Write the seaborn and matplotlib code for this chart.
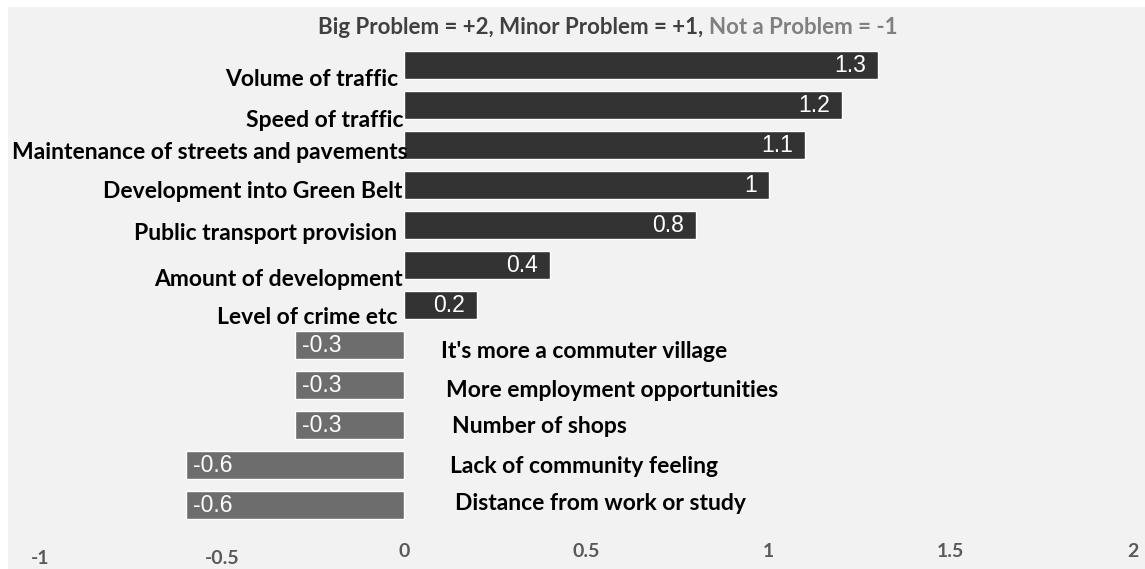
import matplotlib.pyplot as plt
import matplotlib.transforms as mtransforms
from matplotlib.patches import Rectangle
import seaborn as sns
import pandas as pd

# data
issues = ['Volume of traffic', 'Speed of traffic', 'Maintenance of streets and pavements',
          'Development into Green Belt', 'Public transport provision', 'Amount of development',
          'Level of crime etc', "It's more a commuter village", 'More employment opportunities',
          'Number of shops', 'Lack of community feeling', 'Distance from work or study']
scores = [1.3, 1.2, 1.1, 1.0, 0.8, 0.4, 0.2, -0.3, -0.3, -0.3, -0.6, -0.6]
xticks = [-1, -0.5, 0, 0.5, 1, 1.5, 2]
xtick_labels = ['-1', '-0.5', '0', '0.5', '1', '1.5', '2']

# small nudges of the category labels (excel placed them a bit unevenly)
label_dx = [-6, -1, 3, -2, -7, -2, -7, 37, 42, 48, 46, 51]
label_dy = [14, 15, 7, 6, 8, 14, 12, 6, 5, 1, 1, -2]

df = pd.DataFrame({'issue': issues, 'score': scores})
colors = ['#333333' if v > 0 else '#6d6d6d' for v in scores]

sns.set_style('white')
fig = plt.figure(figsize=(11.45, 5.69), dpi=100)
fig.patch.set_facecolor('white')
fig.patches.append(Rectangle((8 / 1145, 0), 1, (569 - 7) / 569, transform=fig.transFigure,
                             facecolor='#f2f2f2', edgecolor='none', zorder=-10))

ax = fig.add_axes([40 / 1145, 44 / 569, 1093 / 1145, 480 / 569])
ax.set_facecolor('none')
sns.barplot(data=df, x='score', y='issue', hue='issue', palette=colors, order=issues,
            hue_order=issues, width=0.68, legend=False, ax=ax, saturation=1)

ax.set_xlim(-1, 2)
ax.set_ylim(11.5, -0.5)
ax.set_xticks(xticks)
ax.set_xticklabels(xtick_labels, fontfamily='Lato', fontweight='bold', fontsize=14, color='#595959')
ax.tick_params(axis='x', length=0, pad=13)
ax.set_yticks([])
ax.set_xlabel('')
ax.set_ylabel('')
for s in ax.spines.values():
    s.set_visible(False)

# excel drops the first two tick labels a little
for lbl in ax.get_xticklabels()[:2]:
    lbl.set_transform(lbl.get_transform() + mtransforms.ScaledTranslation(0, -7 / 100, fig.dpi_scale_trans))

px = 1093 / 3.0  # pixels per unit
for i, (name, v) in enumerate(zip(issues, scores)):
    off = mtransforms.ScaledTranslation(label_dx[i] / 100, -label_dy[i] / 100, fig.dpi_scale_trans)
    if v > 0:
        ax.text(0, i, name, ha='right', va='center', fontfamily='Lato', fontweight='bold',
                fontsize=16.5, color='black', transform=ax.transData + off)
        ax.text(v - 12 / px, i, f'{v:g}', ha='right', va='center', fontfamily='Liberation Sans',
                fontsize=16.5, color='white')
    else:
        ax.text(0, i, name, ha='left', va='center', fontfamily='Lato', fontweight='bold',
                fontsize=16.5, color='black', transform=ax.transData + off)
        ax.text(v + 7 / px, i, f'{v:g}', ha='left', va='center', fontfamily='Liberation Sans',
                fontsize=16.5, color='white')

# subtitle with the scoring key
ysub = 1 - 27 / 569
fig.text(709 / 1145, ysub, 'Big Problem = +2, Minor Problem = +1, ', ha='right', va='center',
         fontfamily='Lato', fontweight='bold', fontsize=16, color='#404040')
fig.text(709 / 1145, ysub, 'Not a Problem = -1', ha='left', va='center',
         fontfamily='Lato', fontweight='bold', fontsize=16, color='#808080')

fig.savefig('out.png', dpi=100)
